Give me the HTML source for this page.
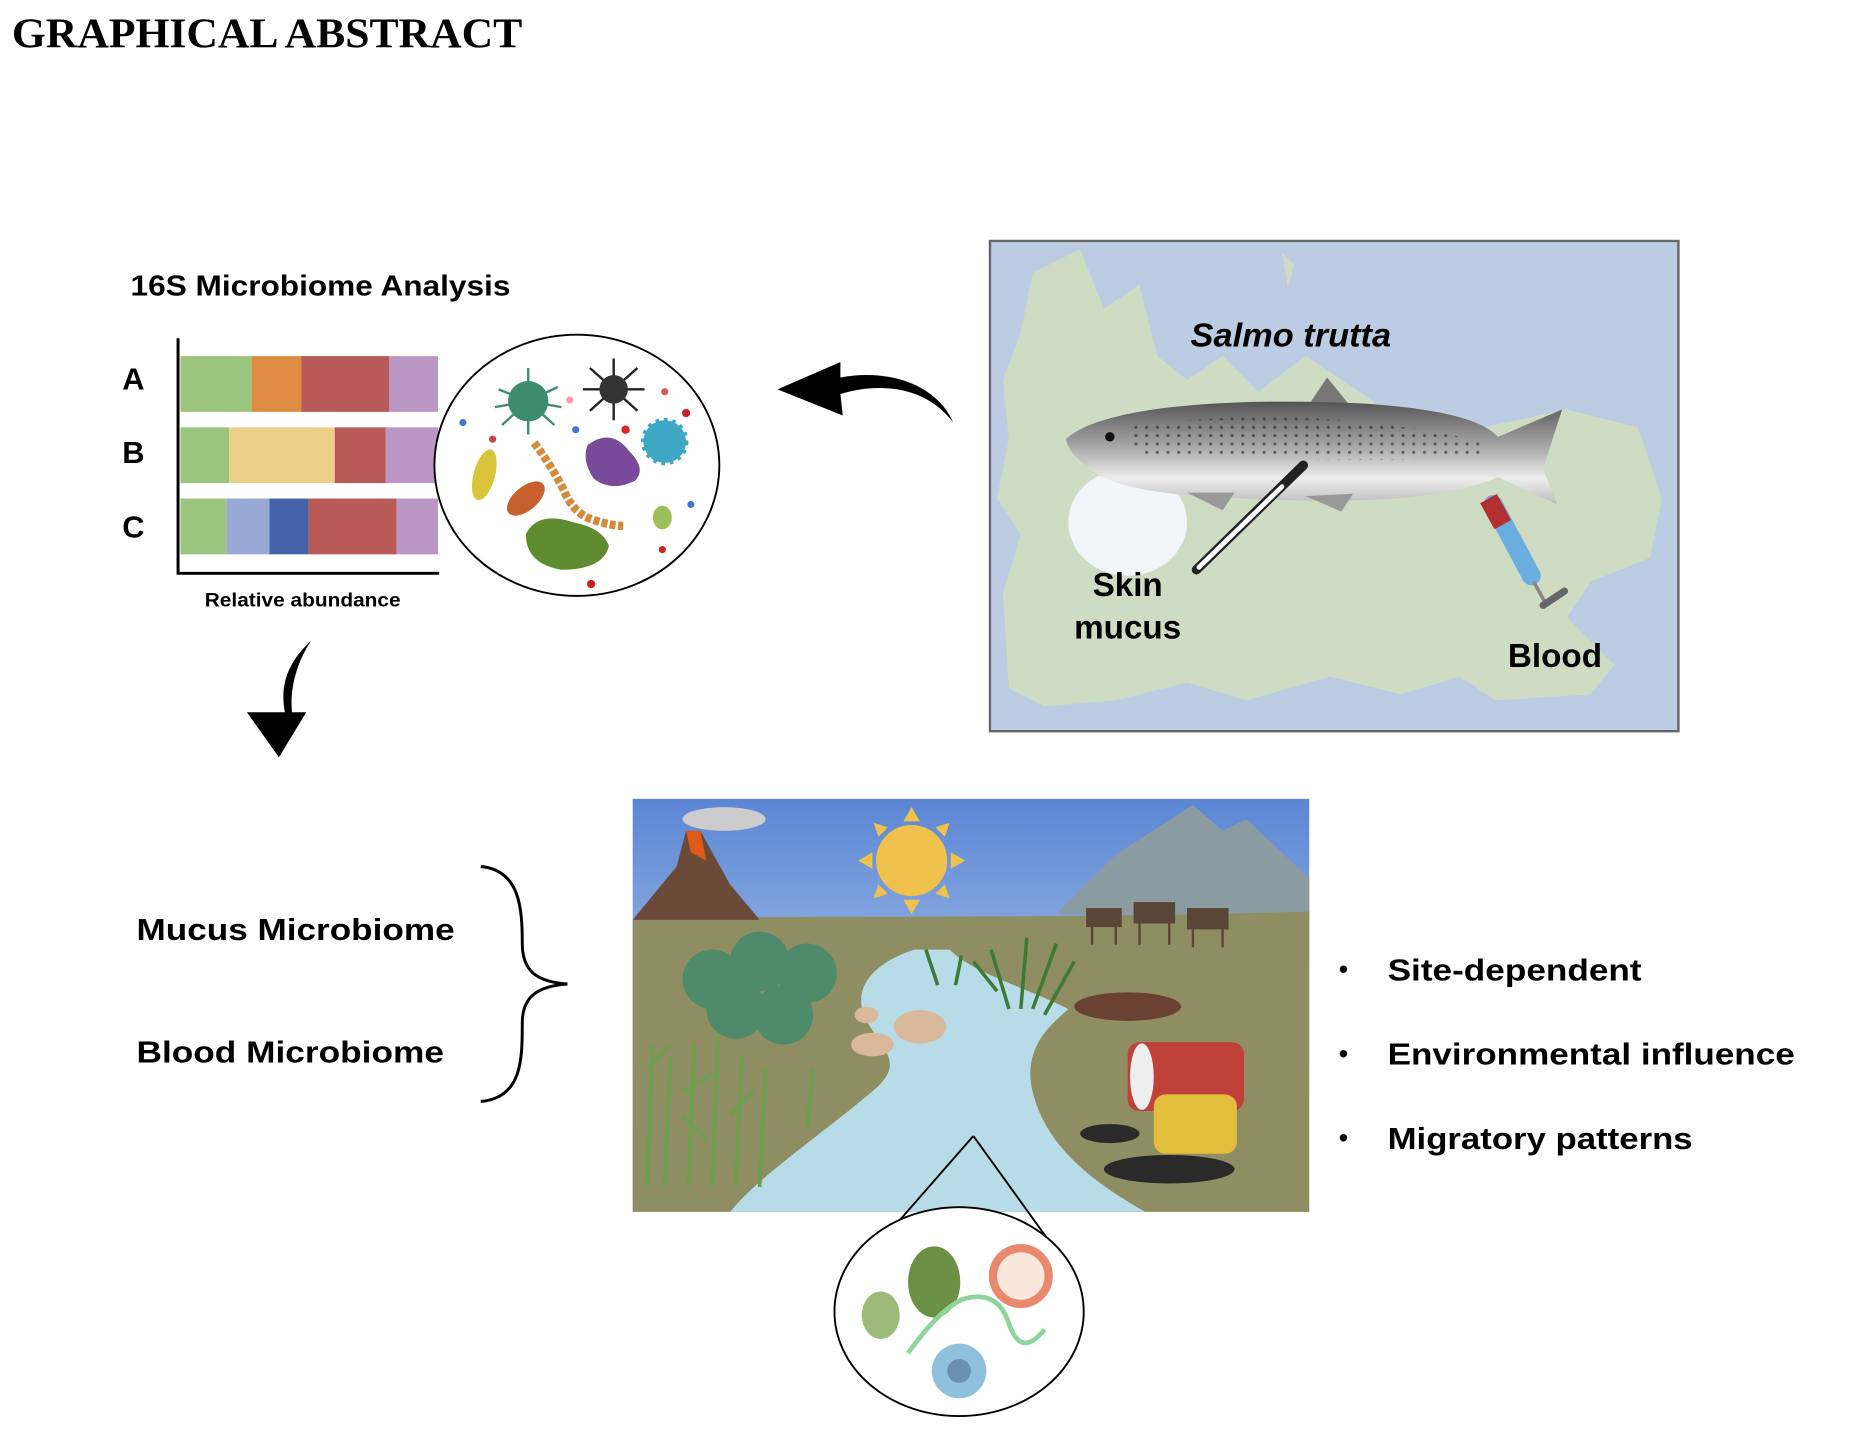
<!DOCTYPE html>
<html><head><meta charset="utf-8"><style>
html,body{margin:0;padding:0;background:#fff;}
svg{display:block;}
.s{font-family:"Liberation Sans",sans-serif;font-weight:bold;fill:#000;}
</style></head><body>
<svg width="1860" height="1432" viewBox="0 0 1860 1432" xmlns="http://www.w3.org/2000/svg">
<defs>
<linearGradient id="sky" x1="0" y1="0" x2="0" y2="1"><stop offset="0" stop-color="#5b86d4"/><stop offset="1" stop-color="#dde9f6"/></linearGradient>
<linearGradient id="fish" x1="0" y1="0" x2="0" y2="1"><stop offset="0" stop-color="#555"/><stop offset="0.45" stop-color="#aaa"/><stop offset="0.75" stop-color="#eee"/><stop offset="1" stop-color="#bbb"/></linearGradient>
<pattern id="dots" width="9" height="7" patternUnits="userSpaceOnUse"><circle cx="3" cy="3" r="1.3" fill="#222"/></pattern>
</defs>
<g transform="scale(1.187)">
<text x="10" y="40" font-family="Liberation Serif,serif" font-weight="bold" font-size="36" textLength="430" lengthAdjust="spacingAndGlyphs" fill="#000">GRAPHICAL ABSTRACT</text>

<!-- bar chart -->
<text class="s" x="110" y="249" font-size="24" textLength="320" lengthAdjust="spacingAndGlyphs">16S Microbiome Analysis</text>
<text class="s" x="103" y="328" font-size="26">A</text>
<text class="s" x="103" y="390" font-size="26">B</text>
<text class="s" x="103" y="453" font-size="26">C</text>
<rect x="152" y="300" width="60" height="47" fill="#9bc47c"/><rect x="212" y="300" width="42" height="47" fill="#de8c42"/><rect x="254" y="300" width="74" height="47" fill="#b85a58"/><rect x="328" y="300" width="41" height="47" fill="#bb97c6"/>
<rect x="152" y="360" width="41" height="47" fill="#9bc47c"/><rect x="193" y="360" width="89" height="47" fill="#ecd08a"/><rect x="282" y="360" width="43" height="47" fill="#b85a58"/><rect x="325" y="360" width="44" height="47" fill="#bb97c6"/>
<rect x="152" y="420" width="39" height="47" fill="#9bc47c"/><rect x="191" y="420" width="36" height="47" fill="#99a9d6"/><rect x="227" y="420" width="33" height="47" fill="#4563a8"/><rect x="260" y="420" width="74" height="47" fill="#b85a58"/><rect x="334" y="420" width="35" height="47" fill="#bb97c6"/>
<path d="M150 285 V483 H370" fill="none" stroke="#000" stroke-width="2.5"/>
<text class="s" x="255" y="511" font-size="16" text-anchor="middle" textLength="165" lengthAdjust="spacingAndGlyphs">Relative abundance</text>

<!-- microbe circle -->
<ellipse cx="486" cy="392" rx="120" ry="110" fill="#fff" stroke="#000" stroke-width="1.6"/>
<g stroke="#3d8c6e" stroke-width="2"><path d="M445 338 l0 -28 M445 338 l25 -12 M445 338 l-25 -10 M445 338 l-22 20 M445 338 l22 20 M445 338 l0 28 M445 338 l28 5 M445 338 l-28 5"/></g>
<circle cx="445" cy="338" r="17" fill="#3d8c6e"/>
<g stroke="#222" stroke-width="2"><path d="M517 328 l0 -26 M517 328 l20 -18 M517 328 l26 0 M517 328 l20 18 M517 328 l0 26 M517 328 l-20 18 M517 328 l-26 0 M517 328 l-20 -18"/></g>
<circle cx="517" cy="328" r="12" fill="#333"/>
<circle cx="560" cy="372" r="18" fill="#3ea8c4" stroke="#3ea8c4" stroke-width="4" stroke-dasharray="3 4"/>
<path d="M495 375 q20 -15 35 5 q15 15 5 25 q-20 10 -35 -2 q-10 -15 -5 -28z" fill="#7a4a9a"/>
<ellipse cx="408" cy="400" rx="9" ry="22" fill="#d9c43a" transform="rotate(15 408 400)"/>
<ellipse cx="443" cy="420" rx="19" ry="10" fill="#c8602e" transform="rotate(-40 443 420)"/>
<path d="M443 450 q10 -20 40 -10 q25 5 30 20 q-5 20 -40 20 q-30 -5 -30 -30z" fill="#5e8c2e"/>
<path d="M450 373 q15 20 25 40 q8 20 25 25 q15 5 25 5" fill="none" stroke="#d58b3a" stroke-width="7" stroke-dasharray="5 2"/>
<ellipse cx="558" cy="436" rx="8" ry="10" fill="#9bc05a"/>
<g><circle cx="527" cy="362" r="3.5" fill="#d22"/><circle cx="390" cy="356" r="3" fill="#47c"/><circle cx="582" cy="425" r="3" fill="#47c"/><circle cx="498" cy="492" r="3.5" fill="#c22"/><circle cx="558" cy="463" r="3" fill="#c22"/><circle cx="578" cy="348" r="3.5" fill="#c22"/><circle cx="480" cy="337" r="3" fill="#f9a"/><circle cx="485" cy="362" r="3" fill="#47c"/><circle cx="415" cy="370" r="3" fill="#c44"/><circle cx="560" cy="330" r="3" fill="#d55"/></g>

<!-- left arrow -->
<path d="M803 356 C780 325 740 322 708 332 L710 350 L655 328 L708 305 L708 318 C750 310 790 325 803 356 Z" fill="#000"/>

<!-- map -->
<rect x="834" y="203" width="580" height="413" fill="#bccde3" stroke="#666" stroke-width="2"/>
<path d="M870 230 L910 210 L930 260 L960 240 L975 300 L1000 320 L1030 300 L1060 330 L1100 300 L1160 340 L1250 360 L1320 345 L1380 360 L1400 420 L1390 470 L1340 490 L1320 520 L1360 560 L1340 585 L1260 590 L1230 570 L1180 585 L1120 570 L1050 590 L1000 575 L940 590 L880 595 L850 580 L845 500 L860 450 L840 420 L850 370 L845 320 L860 280 Z" fill="#cfdcc4"/>
<path d="M1080 213 l10 10 l-5 20 z" fill="#cfdcc4"/>
<ellipse cx="950" cy="440" rx="50" ry="45" fill="#f2f6fa"/>
<path d="M1100 345 L1118 318 L1140 345 Z" fill="#777"/>
<path d="M898 370 C930 340 1050 335 1150 340 C1220 345 1250 355 1262 368 L1316 345 L1300 395 L1312 425 L1262 402 C1220 420 1150 425 1050 420 C980 418 930 410 915 392 C905 385 900 378 898 370 Z" fill="url(#fish)"/>
<path d="M950 360 C1050 345 1150 350 1250 372 L1250 385 C1150 390 1050 385 960 385 Z" fill="url(#dots)" opacity="0.6"/>
<path d="M1000 415 l40 0 l-10 15 z M1100 418 l40 -2 l-10 15z" fill="#999"/>
<circle cx="935" cy="368" r="4" fill="#111"/>
<path d="M1008 480 L1098 392" stroke="#222" stroke-width="8" stroke-linecap="round"/>
<path d="M1010 478 L1080 410" stroke="#fff" stroke-width="4" stroke-linecap="round"/>
<path d="M1258 425 L1290 485" stroke="#6aaee0" stroke-width="16" stroke-linecap="round"/>
<path d="M1254 420 L1266 442" stroke="#b23030" stroke-width="16"/>
<path d="M1292 490 L1302 508" stroke="#888" stroke-width="3"/>
<path d="M1300 510 L1318 498" stroke="#666" stroke-width="6" stroke-linecap="round"/>
<text class="s" x="1003" y="292" font-size="28" font-style="italic" textLength="169" lengthAdjust="spacingAndGlyphs">Salmo trutta</text>
<text class="s" x="950" y="502" font-size="28" text-anchor="middle">Skin</text>
<text class="s" x="950" y="538" font-size="28" text-anchor="middle">mucus</text>
<text class="s" x="1310" y="562" font-size="28" text-anchor="middle">Blood</text>

<!-- down arrow -->
<path d="M262 540 C245 555 235 575 240 600 L208 600 L235 638 L258 600 L246 600 C244 580 250 558 262 540 Z" fill="#000"/>

<!-- brace and labels -->
<text class="s" x="115" y="792" font-size="26" textLength="268" lengthAdjust="spacingAndGlyphs">Mucus Microbiome</text>
<text class="s" x="115" y="895" font-size="26" textLength="259" lengthAdjust="spacingAndGlyphs">Blood Microbiome</text>
<path d="M405 730 C438 733 440 765 440 795 C440 818 452 827 478 829 C452 831 440 840 440 862 C440 892 440 925 405 928" fill="none" stroke="#000" stroke-width="2.5"/>

<!-- scene -->
<rect x="533" y="673" width="570" height="348" fill="url(#sky)"/>
<path d="M890 770 L940 720 L1005 678 L1030 700 L1050 690 L1103 740 L1103 775 Z" fill="#8a9ba2"/>
<path d="M533 775 C650 770 850 775 1103 768 L1103 1021 L533 1021 Z" fill="#8f8d62"/>
<path d="M533 775 L570 730 L578 700 L590 700 L615 745 L640 775 Z" fill="#6b4a3a"/>
<path d="M578 700 L590 700 L595 725 L582 718 Z" fill="#e05a1a"/>
<ellipse cx="610" cy="690" rx="35" ry="10" fill="#ccc"/>
<circle cx="768" cy="725" r="30" fill="#eec24c"/>
<path d="M768 680 L761 692 L775 692 Z M768 770 L761 758 L775 758 Z M723 725 L735 718 L735 732 Z M813 725 L801 718 L801 732 Z M736 693 l12 4 l-8 8z M800 693 l-12 4 l8 8z M736 757 l12 -4 l-8 -8z M800 757 l-12 -4 l8 -8z" fill="#eec24c"/>
<path d="M770 800 C740 810 715 830 730 860 C745 885 760 895 740 915 C700 950 640 990 615 1021 L965 1021 C910 990 880 960 870 920 C860 880 890 860 900 850 C860 830 820 820 800 800 Z" fill="#b8dbe8"/>
<g fill="#4f8a6a"><circle cx="600" cy="825" r="25"/><circle cx="640" cy="810" r="25"/><circle cx="680" cy="820" r="25"/><circle cx="620" cy="850" r="25"/><circle cx="660" cy="855" r="25"/></g>
<g stroke="#6aa04e" stroke-width="3" fill="none"><path d="M545 1000 l5 -120 M560 1000 l5 -110 M580 1000 l5 -120 M600 1000 l5 -130 M620 1000 l5 -110 M640 1000 l5 -100 M680 950 l5 -50 M545 900 l20 -20 M575 920 l25 -15 M595 960 l-20 -20 M615 940 l20 -20"/></g>
<ellipse cx="775" cy="865" rx="22" ry="14" fill="#d9b99a"/><ellipse cx="735" cy="880" rx="18" ry="10" fill="#d9b99a"/><ellipse cx="730" cy="855" rx="10" ry="7" fill="#d9b99a"/>
<g fill="#5a4636"><rect x="915" y="765" width="30" height="16"/><rect x="955" y="760" width="35" height="18"/><rect x="1000" y="765" width="35" height="18"/></g>
<g stroke="#5a4636" stroke-width="2"><path d="M920 781 v15 M940 781 v15 M960 778 v18 M985 778 v18 M1005 783 v15 M1030 783 v15"/></g>
<ellipse cx="950" cy="848" rx="45" ry="12" fill="#6b4232"/>
<g stroke="#3f7a34" stroke-width="3"><path d="M790 830 l-10 -30 M805 830 l5 -25 M850 850 l-15 -50 M860 850 l5 -60 M870 850 l20 -55 M880 855 l25 -45 M840 835 l-20 -25"/></g>
<rect x="950" y="878" width="98" height="58" rx="10" fill="#c0403a"/>
<ellipse cx="962" cy="907" rx="10" ry="28" fill="#eee"/>
<rect x="972" y="922" width="70" height="50" rx="10" fill="#e2be3c"/>
<ellipse cx="985" cy="985" rx="55" ry="12" fill="#2a2a2a"/>
<ellipse cx="935" cy="955" rx="25" ry="8" fill="#2a2a2a"/>

<!-- zoom lines & bottom circle -->
<path d="M820 957 L737 1052 M820 957 L882 1043" stroke="#000" stroke-width="1.6" fill="none"/>
<ellipse cx="808" cy="1105" rx="105" ry="88" fill="#fff" stroke="#000" stroke-width="1.6"/>
<ellipse cx="787" cy="1080" rx="22" ry="30" fill="#6b8f45"/>
<ellipse cx="742" cy="1108" rx="16" ry="20" fill="#9dba78"/>
<circle cx="860" cy="1075" r="27" fill="#e8896e"/><circle cx="860" cy="1075" r="20" fill="#fbe6dc"/>
<circle cx="808" cy="1155" r="23" fill="#8fc0dc"/><circle cx="808" cy="1155" r="10" fill="#6b8fb0"/>
<path d="M765 1140 q25 -35 45 -45 q30 -10 40 20 q10 30 30 5" fill="none" stroke="#8fd49a" stroke-width="4"/>

<!-- bullets -->
<text class="s" x="1128" y="824" font-size="22">•</text><text class="s" x="1169" y="826" font-size="26" textLength="214" lengthAdjust="spacingAndGlyphs">Site-dependent</text>
<text class="s" x="1128" y="895" font-size="22">•</text><text class="s" x="1169" y="897" font-size="26" textLength="343" lengthAdjust="spacingAndGlyphs">Environmental influence</text>
<text class="s" x="1128" y="966" font-size="22">•</text><text class="s" x="1169" y="968" font-size="26" textLength="257" lengthAdjust="spacingAndGlyphs">Migratory patterns</text>
</g>
</svg>
</body></html>
